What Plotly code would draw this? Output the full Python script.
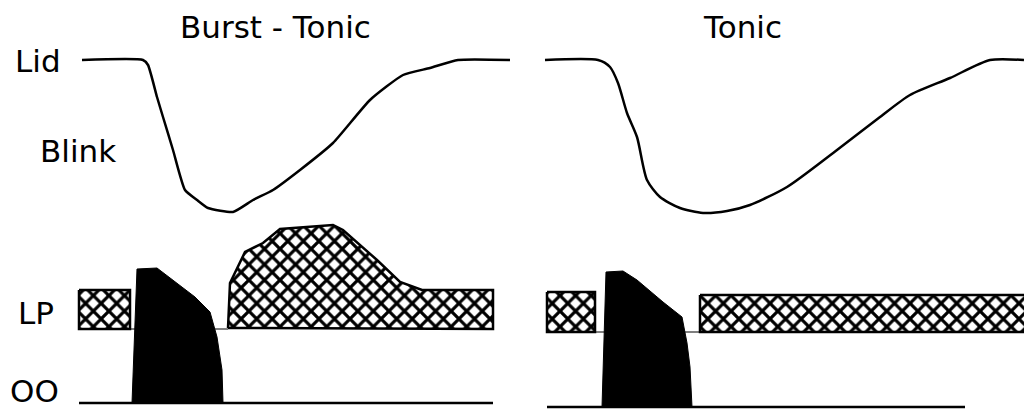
import plotly.graph_objects as go

# ---- data (time in px-like units, amplitude in px-like units, y grows downward) ----
# Burst - Tonic panel
lid_bt_t = [82, 143, 148, 157, 163, 173, 185, 197, 208, 233, 253, 273, 300, 333, 370, 403, 430, 458, 510]
lid_bt_y = [60, 60, 65, 97, 117, 150, 190, 200, 208, 212, 200, 190, 170, 143, 100, 75, 68, 60, 60]

lp_pre_bt_t = [79, 130, 130, 79, 79]
lp_pre_bt_y = [290, 290, 329, 329, 290]

lp_post_bt_t = [228, 230, 245, 263, 280, 333, 343, 377, 400, 422, 493, 493, 228]
lp_post_bt_y = [328, 283, 252, 243, 229, 225, 230, 260, 282, 290, 290, 329, 328]

oo_bt_t = [132, 137, 157, 177, 195, 210, 217, 222, 223, 132]
oo_bt_y = [403, 269, 268, 283, 297, 312, 337, 370, 403, 403]

oo_base_bt_t = [79, 493]
oo_base_bt_y = [403, 403]
lp_base_bt_t = [130, 228]
lp_base_bt_y = [329, 329]

# Tonic panel
lid_t_t = [545, 598, 610, 618, 627, 637, 647, 660, 680, 703, 727, 750, 787, 837, 880, 910, 950, 990, 1024]
lid_t_y = [60, 60, 67, 83, 113, 137, 180, 197, 208, 213, 211, 205, 187, 150, 117, 95, 78, 60, 60]

lp_pre_t_t = [547, 595, 595, 547, 547]
lp_pre_t_y = [292, 292, 332, 332, 292]

lp_post_t_t = [700, 1030, 1030, 700, 700]
lp_post_t_y = [295, 295, 332, 332, 295]

oo_t_t = [602, 606, 623, 637, 663, 682, 687, 690, 692, 602]
oo_t_y = [407, 272, 271, 280, 302, 317, 343, 367, 407, 407]

oo_base_t_t = [547, 965]
oo_base_t_y = [407, 407]
lp_base_t_t = [595, 700]
lp_base_t_y = [332, 332]

titles = ["Burst - Tonic", "Tonic"]
title_x = [275, 742]
row_labels = ["Lid", "Blink", "LP", "OO"]
row_label_x = [15, 40, 18, 10]
row_label_y = [61, 151, 313, 391]

# ---- figure ----
fig = go.Figure()

hatch = dict(shape="x", fgcolor="black", bgcolor="white", fgopacity=1, size=11, solidity=0.5)
line_black = dict(color="black", width=2.5)

def add_line(t, y, w=2, shape="linear", smoothing=None):
    ln = dict(color="black", width=w, shape=shape)
    if smoothing is not None:
        ln["smoothing"] = smoothing
    fig.add_trace(go.Scatter(x=t, y=y, mode="lines", line=ln, hoverinfo="skip", showlegend=False))

def add_hatch(t, y):
    fig.add_trace(go.Scatter(x=t, y=y, mode="lines", fill="toself", fillcolor="white",
                             fillpattern=hatch, line=line_black, hoverinfo="skip", showlegend=False))

def add_solid(t, y):
    fig.add_trace(go.Scatter(x=t, y=y, mode="lines", fill="toself", fillcolor="black",
                             line=dict(color="black", width=1), hoverinfo="skip", showlegend=False))

# baselines
add_line(lp_base_bt_t, lp_base_bt_y, w=1)
add_line(lp_base_t_t, lp_base_t_y, w=1)
add_line(oo_base_bt_t, oo_base_bt_y, w=2.5)
add_line(oo_base_t_t, oo_base_t_y, w=2.5)

# lid traces
add_line(lid_bt_t, lid_bt_y, w=2.5, shape="spline", smoothing=0.5)
add_line(lid_t_t, lid_t_y, w=2.5, shape="spline", smoothing=0.7)

# LP hatched activity
add_hatch(lp_pre_bt_t, lp_pre_bt_y)
add_hatch(lp_post_bt_t, lp_post_bt_y)
add_hatch(lp_pre_t_t, lp_pre_t_y)
add_hatch(lp_post_t_t, lp_post_t_y)

# OO burst
add_solid(oo_bt_t, oo_bt_y)
add_solid(oo_t_t, oo_t_y)

font = dict(family="DejaVu Sans", size=31, color="black")
for txt, x in zip(titles, title_x):
    fig.add_annotation(x=x, y=27, text=txt, showarrow=False, xanchor="center", yanchor="middle", font=font)
for txt, x, y in zip(row_labels, row_label_x, row_label_y):
    fig.add_annotation(x=x, y=y, text=txt, showarrow=False, xanchor="left", yanchor="middle", font=font,
                       xshift=-2)

fig.update_layout(
    width=1024, height=412,
    margin=dict(l=0, r=0, t=0, b=0),
    paper_bgcolor="white", plot_bgcolor="white",
    xaxis=dict(range=[0, 1024], visible=False, fixedrange=True),
    yaxis=dict(range=[412, 0], visible=False, fixedrange=True),
    showlegend=False,
)

fig.write_html("out.html", config={"displayModeBar": False},
               post_script="document.body.style.margin='0px';document.body.style.overflow='hidden';")
